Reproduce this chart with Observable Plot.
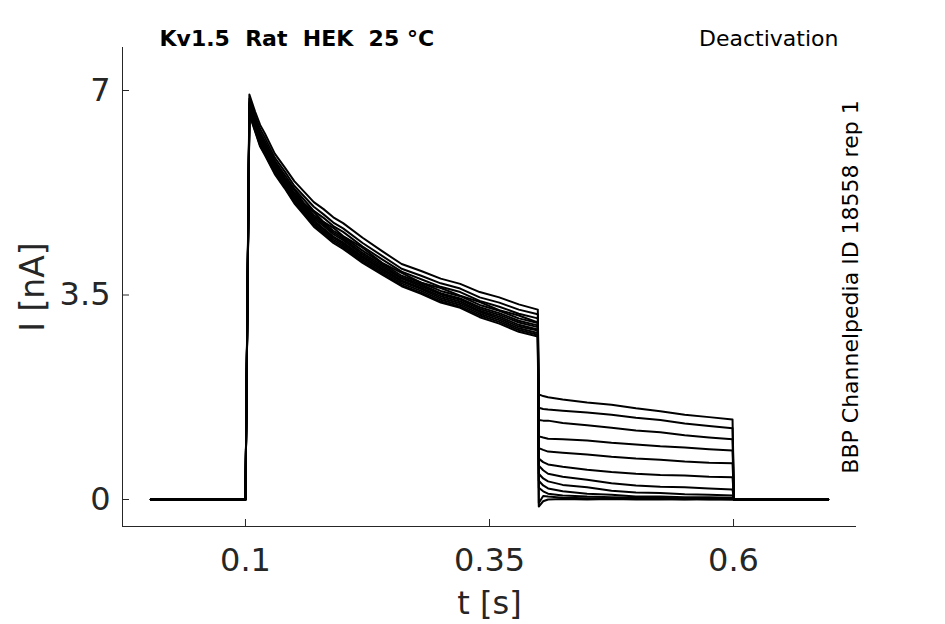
<!DOCTYPE html>
<html><head><meta charset="utf-8">
<script src="https://cdn.jsdelivr.net/npm/d3@7"></script>
<script src="https://cdn.jsdelivr.net/npm/@observablehq/plot@0.6"></script>
<style>body{margin:0;background:#fff} svg{display:block}</style>
</head><body><div id="chart"></div>
<script>
const titleText = "Kv1.5\u00a0\u00a0Rat\u00a0\u00a0HEK\u00a0\u00a025\u00a0°C";
const protocolText = "Deactivation";
const sourceText = "BBP Channelpedia ID 18558 rep 1";
const xLabel = "t [s]";
const yLabel = "I [nA]";

const xDomain = [-0.026, 0.726];
const yDomain = [-0.462, 7.736];
const xTicks = [0.1, 0.35, 0.6];
const xTickLabels = ["0.1", "0.35", "0.6"];
const yTicks = [0, 3.5, 7];
const yTickLabels = ["0", "3.5", "7"];

// time grids (s)
const tPre = [0.003, 0.1];
const tPulse = [0.104, 0.11, 0.115, 0.12, 0.13, 0.14, 0.15, 0.16, 0.17, 0.18, 0.19, 0.2, 0.22, 0.24, 0.26, 0.28, 0.30, 0.32, 0.34, 0.36, 0.38, 0.3995];
const tTail = [0.4005, 0.405, 0.41, 0.425, 0.45, 0.475, 0.5, 0.525, 0.55, 0.575, 0.599];
const tPost = [0.6005, 0.697];
const baseline = 0;

// current during the depolarising step (nA), one row per sweep
const pulseTraces = [
  [6.93, 6.63, 6.41, 6.26, 5.92, 5.69, 5.45, 5.27, 5.09, 4.97, 4.83, 4.73, 4.48, 4.25, 4.03, 3.91, 3.78, 3.69, 3.55, 3.46, 3.34, 3.25],
  [6.86, 6.56, 6.34, 6.19, 5.85, 5.62, 5.37, 5.19, 5.01, 4.88, 4.74, 4.64, 4.39, 4.17, 3.95, 3.83, 3.70, 3.61, 3.46, 3.37, 3.25, 3.17],
  [6.80, 6.51, 6.28, 6.13, 5.80, 5.56, 5.32, 5.13, 4.94, 4.82, 4.68, 4.58, 4.33, 4.11, 3.90, 3.77, 3.64, 3.55, 3.40, 3.30, 3.18, 3.10],
  [6.77, 6.46, 6.26, 6.07, 5.78, 5.51, 5.30, 5.07, 4.92, 4.75, 4.65, 4.51, 4.31, 4.05, 3.88, 3.71, 3.62, 3.49, 3.38, 3.24, 3.15, 3.03],
  [6.75, 6.45, 6.22, 6.07, 5.74, 5.50, 5.25, 5.06, 4.87, 4.74, 4.60, 4.50, 4.26, 4.04, 3.83, 3.71, 3.57, 3.48, 3.33, 3.23, 3.10, 3.02],
  [6.72, 6.43, 6.19, 6.04, 5.71, 5.47, 5.22, 5.03, 4.84, 4.71, 4.57, 4.47, 4.22, 4.01, 3.80, 3.68, 3.53, 3.44, 3.29, 3.19, 3.06, 2.98],
  [6.70, 6.40, 6.16, 6.01, 5.69, 5.45, 5.20, 5.00, 4.81, 4.68, 4.54, 4.44, 4.19, 3.98, 3.78, 3.65, 3.51, 3.42, 3.26, 3.16, 3.03, 2.95],
  [6.68, 6.38, 6.14, 5.99, 5.66, 5.42, 5.17, 4.97, 4.78, 4.64, 4.50, 4.40, 4.16, 3.95, 3.75, 3.62, 3.48, 3.39, 3.23, 3.13, 2.99, 2.91],
  [6.66, 6.36, 6.11, 5.96, 5.64, 5.40, 5.15, 4.95, 4.75, 4.62, 4.48, 4.38, 4.14, 3.93, 3.73, 3.60, 3.45, 3.36, 3.21, 3.10, 2.96, 2.89],
  [6.63, 6.33, 6.09, 5.94, 5.62, 5.38, 5.12, 4.92, 4.72, 4.59, 4.45, 4.35, 4.11, 3.90, 3.70, 3.57, 3.42, 3.33, 3.18, 3.07, 2.93, 2.85],
  [6.61, 6.31, 6.06, 5.91, 5.59, 5.35, 5.09, 4.89, 4.70, 4.56, 4.42, 4.32, 4.08, 3.87, 3.67, 3.54, 3.39, 3.30, 3.15, 3.04, 2.90, 2.82],
  [6.59, 6.29, 6.04, 5.89, 5.57, 5.33, 5.07, 4.87, 4.67, 4.53, 4.39, 4.29, 4.05, 3.85, 3.65, 3.52, 3.37, 3.28, 3.12, 3.01, 2.87, 2.79]
];

// tail currents after repolarisation (nA)
const tailTraces = [
  [1.80, 1.77, 1.75, 1.71, 1.66, 1.62, 1.56, 1.51, 1.45, 1.41, 1.37],
  [1.57, 1.55, 1.54, 1.52, 1.49, 1.45, 1.40, 1.36, 1.30, 1.26, 1.22],
  [1.36, 1.35, 1.35, 1.31, 1.27, 1.23, 1.18, 1.15, 1.10, 1.06, 1.03],
  [1.08, 1.06, 1.04, 1.03, 1.01, 0.97, 0.94, 0.91, 0.89, 0.86, 0.84],
  [0.88, 0.85, 0.82, 0.80, 0.77, 0.73, 0.70, 0.68, 0.65, 0.63, 0.62],
  [0.70, 0.64, 0.60, 0.56, 0.51, 0.47, 0.44, 0.42, 0.41, 0.39, 0.38],
  [0.58, 0.50, 0.44, 0.39, 0.34, 0.28, 0.24, 0.22, 0.21, 0.19, 0.17],
  [0.44, 0.36, 0.31, 0.25, 0.21, 0.15, 0.12, 0.11, 0.09, 0.08, 0.07],
  [0.32, 0.24, 0.19, 0.14, 0.10, 0.08, 0.05, 0.05, 0.04, 0.04, 0.03],
  [0.20, 0.14, 0.10, 0.07, 0.05, 0.04, 0.03, 0.03, 0.02, 0.02, 0.02],
  [-0.06, 0.06, 0.05, 0.03, 0.02, 0.02, 0.01, 0.01, 0.00, 0.01, 0.00],
  [-0.12, -0.03, 0.00, 0.01, 0.00, 0.01, 0.00, 0.00, 0.01, 0.00, 0.00]
];

const rows = [];
pulseTraces.forEach((p, k) => {
  tPre.forEach(t => rows.push({sweep: k, t, i: baseline}));
  tPulse.forEach((t, j) => rows.push({sweep: k, t, i: p[j]}));
  tTail.forEach((t, j) => rows.push({sweep: k, t, i: tailTraces[k][j]}));
  tPost.forEach(t => rows.push({sweep: k, t, i: baseline}));
});

const ink = "#262626";
const font = "DejaVu Sans";

const chart = Plot.plot({
  width: 945,
  height: 624,
  marginLeft: 122,
  marginRight: 89,
  marginTop: 47,
  marginBottom: 98,
  style: {fontFamily: font, background: "#fff", color: ink, overflow: "visible"},
  x: {domain: xDomain},
  y: {domain: yDomain},
  marks: [
    Plot.ruleX([xDomain[0]], {stroke: ink, strokeWidth: 1}),
    Plot.ruleY([yDomain[0]], {stroke: ink, strokeWidth: 1}),
    Plot.axisX(xTicks, {tickSize: 7, dy: -7, tickFormat: () => "", label: null}),
    Plot.axisX(xTicks, {tickSize: 0, tickPadding: 22, tickFormat: d => xTickLabels[xTicks.indexOf(d)], fontSize: 32, label: null}),
    Plot.axisY(yTicks, {tickSize: 7, dx: 7, tickFormat: () => "", label: null}),
    Plot.axisY(yTicks, {tickSize: 0, tickPadding: 12, tickFormat: d => yTickLabels[yTicks.indexOf(d)], fontSize: 32, label: null}),
    Plot.line(rows, {x: "t", y: "i", z: "sweep", stroke: "black", strokeWidth: 2, strokeLinejoin: "round"}),
    Plot.text([xLabel], {text: d => d, frameAnchor: "bottom", dy: 77, lineAnchor: "middle", textAnchor: "middle", fontSize: 32, fill: ink}),
    Plot.text([yLabel], {text: d => d, frameAnchor: "left", dx: -89, rotate: -90, lineAnchor: "middle", textAnchor: "middle", fontSize: 33, fill: ink}),
    Plot.text([titleText], {text: d => d, frameAnchor: "top-left", dx: 37, dy: -2, lineAnchor: "bottom", textAnchor: "start", fontSize: 22, fontWeight: "bold", fill: "black"}),
    Plot.text([protocolText], {text: d => d, frameAnchor: "top-right", dx: -18, dy: -2, lineAnchor: "bottom", textAnchor: "end", fontSize: 22, fill: "black"}),
    Plot.text([sourceText], {text: d => d, frameAnchor: "right", dx: 1, rotate: -90, lineAnchor: "bottom", textAnchor: "middle", fontSize: 22, fill: "black"})
  ]
});
document.getElementById("chart").appendChild(chart);
</script>
</body></html>
